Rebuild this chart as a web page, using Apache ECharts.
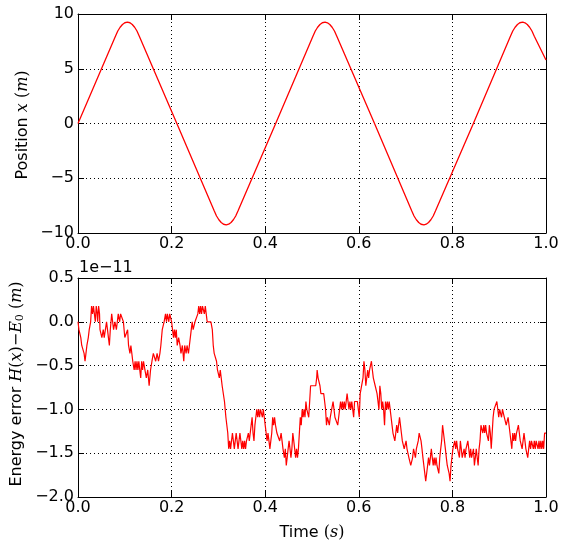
<!DOCTYPE html>
<html>
<head>
<meta charset="utf-8">
<script src="https://cdn.jsdelivr.net/npm/echarts@6/dist/echarts.min.js"></script>
<style>
html,body{margin:0;padding:0;background:#fff;}
#c{width:563px;height:545px;}
</style>
</head>
<body>
<div id="c"></div>
<script>
// ---- Data ----
const posTime = [0, 0.080, 0.085, 0.090, 0.095, 0.100, 0.1056, 0.111, 0.116, 0.121, 0.126, 0.131,
  0.2112, 0.291, 0.296, 0.301, 0.306, 0.311, 0.3168, 0.322, 0.327, 0.332, 0.337, 0.342,
  0.4224, 0.502, 0.507, 0.512, 0.517, 0.522, 0.528, 0.533, 0.538, 0.543, 0.548, 0.553,
  0.6336, 0.713, 0.718, 0.723, 0.728, 0.733, 0.7392, 0.744, 0.749, 0.754, 0.759, 0.764,
  0.8448, 0.924, 0.929, 0.934, 0.939, 0.944, 0.9504, 0.955, 0.960, 0.965, 0.970, 0.975, 1.0];
const posValue = [0, 7.97, 8.45, 8.79, 9.04, 9.2, 9.25, 9.2, 9.04, 8.79, 8.45, 7.97,
  0, -7.97, -8.45, -8.79, -9.04, -9.2, -9.25, -9.2, -9.04, -8.79, -8.45, -7.97,
  0, 7.97, 8.45, 8.79, 9.04, 9.2, 9.25, 9.2, 9.04, 8.79, 8.45, 7.97,
  0, -7.97, -8.45, -8.79, -9.04, -9.2, -9.25, -9.2, -9.04, -8.79, -8.45, -7.97,
  0, 7.97, 8.45, 8.79, 9.04, 9.2, 9.25, 9.2, 9.04, 8.79, 8.45, 7.97, 5.8];

// energy error, in units of 1e-11 : [time, value]
const errPoints = [
[0.000,0],[0.002,-0.09],[0.004,-0.09],[0.006,-0.18],[0.008,-0.27],[0.011,-0.27],[0.013,-0.36],[0.015,-0.45],
[0.017,-0.36],[0.019,-0.27],[0.022,-0.18],[0.024,-0.09],[0.027,0],[0.029,0.18],[0.031,0.09],[0.033,0.18],
[0.035,0.09],[0.037,0],[0.039,0.18],[0.041,0.09],[0.042,0],[0.044,0.18],[0.046,0.09],[0.047,-0.09],
[0.049,-0.09],[0.051,-0.18],[0.054,-0.09],[0.056,-0.18],[0.058,-0.18],[0.061,0],[0.063,-0.09],[0.065,-0.18],
[0.067,-0.27],[0.069,-0.09],[0.072,0.09],[0.074,0],[0.076,-0.09],[0.079,0],[0.082,-0.09],[0.084,0],
[0.086,0.09],[0.089,0],[0.091,0.09],[0.093,0.09],[0.095,0.09],[0.097,0],[0.100,-0.18],[0.103,-0.18],
[0.106,-0.09],[0.108,-0.27],[0.111,-0.36],[0.113,-0.27],[0.115,-0.36],[0.117,-0.45],[0.120,-0.55],[0.122,-0.45],
[0.124,-0.55],[0.126,-0.45],[0.128,-0.55],[0.130,-0.45],[0.132,-0.55],[0.134,-0.64],[0.136,-0.45],[0.138,-0.55],
[0.140,-0.45],[0.143,-0.55],[0.146,-0.64],[0.149,-0.55],[0.152,-0.73],[0.155,-0.55],[0.158,-0.45],[0.161,-0.36],
[0.164,-0.36],[0.166,-0.45],[0.169,-0.36],[0.172,-0.45],[0.175,-0.36],[0.177,-0.27],[0.180,-0.09],[0.182,-0.09],
[0.184,0],[0.187,0.09],[0.189,0],[0.191,0.09],[0.194,0],[0.196,0.09],[0.198,0.09],[0.200,0],
[0.202,-0.09],[0.204,-0.18],[0.206,-0.09],[0.208,-0.18],[0.210,-0.09],[0.212,-0.27],[0.215,-0.18],[0.218,-0.27],
[0.220,-0.36],[0.223,-0.27],[0.226,-0.45],[0.228,-0.27],[0.231,-0.36],[0.233,-0.27],[0.236,-0.36],[0.238,-0.27],
[0.240,-0.18],[0.242,-0.09],[0.244,0],[0.246,-0.09],[0.248,-0.09],[0.250,0],[0.253,0],[0.256,0.09],
[0.258,0.18],[0.260,0.09],[0.262,0.18],[0.264,0.09],[0.266,0.18],[0.268,0.18],[0.270,0.09],[0.272,0.18],
[0.274,0.09],[0.276,0],[0.280,0],[0.284,0],[0.287,-0.09],[0.289,-0.27],[0.291,-0.36],[0.293,-0.36],
[0.296,-0.45],[0.298,-0.55],[0.300,-0.55],[0.302,-0.64],[0.304,-0.55],[0.306,-0.64],[0.308,-0.73],[0.311,-0.73],
[0.313,-0.91],[0.316,-1.09],[0.318,-1.09],[0.320,-1.27],[0.322,-1.45],[0.324,-1.36],[0.326,-1.45],[0.328,-1.36],
[0.330,-1.27],[0.332,-1.36],[0.334,-1.45],[0.336,-1.36],[0.338,-1.27],[0.340,-1.36],[0.342,-1.45],[0.344,-1.36],
[0.346,-1.27],[0.348,-1.36],[0.350,-1.45],[0.352,-1.36],[0.354,-1.45],[0.356,-1.36],[0.358,-1.45],[0.360,-1.36],
[0.362,-1.36],[0.364,-1.27],[0.366,-1.36],[0.368,-1.27],[0.370,-1.18],[0.372,-1.09],[0.374,-1.27],[0.376,-1.36],
[0.378,-1.18],[0.380,-1.09],[0.382,-1.00],[0.384,-1.09],[0.386,-1.00],[0.388,-1.09],[0.390,-1.00],[0.392,-1.00],
[0.394,-1.09],[0.396,-1.00],[0.398,-1.09],[0.400,-1.18],[0.402,-1.27],[0.404,-1.36],[0.406,-1.27],[0.408,-1.36],
[0.410,-1.45],[0.412,-1.36],[0.414,-1.27],[0.416,-1.09],[0.418,-1.18],[0.420,-1.09],[0.422,-1.18],[0.425,-1.27],
[0.428,-1.27],[0.431,-1.36],[0.434,-1.27],[0.436,-1.36],[0.438,-1.45],[0.441,-1.55],[0.443,-1.45],[0.445,-1.64],
[0.447,-1.55],[0.449,-1.45],[0.451,-1.36],[0.453,-1.45],[0.455,-1.55],[0.457,-1.45],[0.459,-1.27],[0.461,-1.36],
[0.463,-1.45],[0.465,-1.55],[0.467,-1.45],[0.469,-1.55],[0.471,-1.45],[0.473,-1.27],[0.475,-1.09],[0.477,-1.18],
[0.479,-1.00],[0.481,-1.09],[0.483,-1.00],[0.485,-1.09],[0.487,-0.91],[0.489,-1.00],[0.491,-1.00],[0.493,-1.09],
[0.495,-0.91],[0.497,-0.73],[0.500,-0.73],[0.503,-0.73],[0.506,-0.73],[0.508,-0.73],[0.510,-0.64],[0.511,-0.55],
[0.513,-0.64],[0.515,-0.64],[0.517,-0.73],[0.519,-0.82],[0.522,-0.82],[0.525,-0.82],[0.527,-0.91],[0.529,-1.00],
[0.531,-1.18],[0.533,-1.09],[0.535,-1.09],[0.537,-1.18],[0.539,-1.09],[0.541,-1.09],[0.543,-1.09],[0.545,-0.91],
[0.547,-1.00],[0.549,-1.09],[0.551,-1.09],[0.553,-1.09],[0.555,-1.18],[0.557,-1.09],[0.559,-1.00],[0.561,-0.91],
[0.563,-1.00],[0.565,-0.91],[0.567,-1.00],[0.569,-0.91],[0.571,-1.00],[0.573,-0.91],[0.575,-0.82],[0.577,-0.91],
[0.579,-1.00],[0.581,-0.91],[0.583,-1.00],[0.585,-0.91],[0.587,-1.00],[0.589,-1.09],[0.591,-0.91],[0.593,-0.91],
[0.595,-0.91],[0.597,-0.91],[0.599,-1.00],[0.601,-1.09],[0.603,-0.82],[0.605,-0.82],[0.607,-0.82],[0.609,-0.64],
[0.611,-0.45],[0.613,-0.55],[0.615,-0.73],[0.617,-0.64],[0.619,-0.55],[0.621,-0.64],[0.623,-0.55],[0.625,-0.55],
[0.627,-0.45],[0.629,-0.55],[0.631,-0.64],[0.633,-0.64],[0.635,-0.73],[0.637,-0.73],[0.639,-0.82],[0.641,-0.91],
[0.643,-1.00],[0.645,-0.73],[0.647,-0.82],[0.649,-1.00],[0.651,-0.91],[0.653,-1.00],[0.655,-1.18],[0.657,-0.91],
[0.659,-1.00],[0.661,-0.91],[0.663,-1.00],[0.665,-0.91],[0.667,-1.00],[0.669,-1.09],[0.671,-1.18],[0.673,-1.27],
[0.675,-1.27],[0.677,-1.36],[0.679,-1.27],[0.681,-1.18],[0.683,-1.27],[0.685,-1.27],[0.687,-1.09],[0.689,-1.18],
[0.691,-1.27],[0.693,-1.36],[0.695,-1.36],[0.697,-1.45],[0.699,-1.45],[0.701,-1.36],[0.703,-1.45],[0.705,-1.45],
[0.707,-1.55],[0.709,-1.55],[0.711,-1.64],[0.713,-1.64],[0.715,-1.55],[0.717,-1.45],[0.719,-1.45],[0.721,-1.55],
[0.723,-1.45],[0.725,-1.45],[0.727,-1.36],[0.729,-1.27],[0.731,-1.27],[0.733,-1.36],[0.735,-1.45],[0.737,-1.55],
[0.739,-1.64],[0.741,-1.73],[0.743,-1.82],[0.745,-1.82],[0.747,-1.64],[0.749,-1.55],[0.751,-1.64],[0.753,-1.55],
[0.755,-1.45],[0.757,-1.55],[0.759,-1.64],[0.761,-1.55],[0.763,-1.64],[0.765,-1.55],[0.767,-1.64],[0.769,-1.64],
[0.771,-1.73],[0.773,-1.55],[0.775,-1.45],[0.777,-1.36],[0.779,-1.18],[0.781,-1.27],[0.783,-1.36],[0.785,-1.45],
[0.787,-1.55],[0.789,-1.64],[0.791,-1.64],[0.793,-1.73],[0.795,-1.82],[0.797,-1.64],[0.799,-1.55],[0.801,-1.45],
[0.803,-1.45],[0.805,-1.36],[0.807,-1.45],[0.809,-1.36],[0.811,-1.45],[0.813,-1.45],[0.815,-1.55],[0.817,-1.36],
[0.819,-1.45],[0.821,-1.55],[0.823,-1.55],[0.825,-1.45],[0.827,-1.55],[0.829,-1.45],[0.831,-1.45],[0.833,-1.36],
[0.835,-1.45],[0.837,-1.55],[0.839,-1.45],[0.841,-1.55],[0.843,-1.55],[0.845,-1.45],[0.847,-1.64],[0.849,-1.55],
[0.851,-1.45],[0.853,-1.55],[0.855,-1.64],[0.857,-1.45],[0.859,-1.36],[0.861,-1.18],[0.863,-1.18],[0.865,-1.27],
[0.867,-1.18],[0.869,-1.27],[0.871,-1.18],[0.873,-1.27],[0.875,-1.27],[0.877,-1.36],[0.879,-1.18],[0.881,-1.27],
[0.883,-1.45],[0.885,-1.27],[0.887,-1.09],[0.889,-1.00],[0.891,-1.00],[0.893,-1.00],[0.895,-0.91],[0.897,-0.91],
[0.899,-1.09],[0.901,-1.00],[0.903,-1.00],[0.905,-1.09],[0.907,-1.00],[0.909,-1.00],[0.911,-1.09],[0.913,-1.09],
[0.915,-1.18],[0.917,-1.18],[0.919,-1.09],[0.921,-1.18],[0.923,-1.27],[0.925,-1.27],[0.927,-1.45],[0.929,-1.27],
[0.931,-1.36],[0.933,-1.27],[0.935,-1.36],[0.937,-1.27],[0.939,-1.27],[0.941,-1.18],[0.943,-1.27],[0.945,-1.36],
[0.947,-1.36],[0.949,-1.45],[0.951,-1.36],[0.953,-1.27],[0.955,-1.36],[0.957,-1.45],[0.959,-1.45],[0.961,-1.55],
[0.963,-1.45],[0.965,-1.36],[0.967,-1.45],[0.969,-1.36],[0.971,-1.36],[0.973,-1.45],[0.975,-1.36],[0.977,-1.45],
[0.979,-1.36],[0.981,-1.36],[0.983,-1.45],[0.985,-1.36],[0.987,-1.45],[0.989,-1.36],[0.991,-1.45],[0.993,-1.36],
[0.995,-1.45],[0.997,-1.27],[1.000,-1.27]
];

const timeTicks = {min: 0, max: 1, step: 0.2};
const posTicks = {min: -10, max: 10, step: 5};
const errTicks = {min: -2.0, max: 0.5, step: 0.5};
const errExponentLabel = '1e\u221211';

// ---- Chart ----
const FONT = 'DejaVu Sans';
const FS = 16;
const minus = s => String(s).replace('-', '\u2212');
const chart = echarts.init(document.getElementById('c'), null, {renderer: 'canvas'});

function mainX(gi, ticks, show) {
  return {
    type: 'value', gridIndex: gi, min: ticks.min, max: ticks.max, interval: ticks.step,
    position: 'bottom',
    axisLine: {show: true, onZero: false, lineStyle: {color: '#000', width: 1}},
    axisTick: {show: true, inside: true, length: 6, lineStyle: {color: '#000'}},
    axisLabel: {show: show, color: '#000', fontFamily: FONT, fontSize: FS, margin: 3,
      formatter: v => minus(v.toFixed(1))},
    splitLine: {show: true, lineStyle: {color: '#000', type: [1, 3], width: 1}}
  };
}
function topX(gi, ticks) {
  return {
    type: 'value', gridIndex: gi, min: ticks.min, max: ticks.max, interval: ticks.step,
    position: 'top',
    axisLine: {show: true, onZero: false, lineStyle: {color: '#000', width: 1}},
    axisTick: {show: true, inside: true, length: 6, lineStyle: {color: '#000'}},
    axisLabel: {show: false}, splitLine: {show: false}
  };
}
function mainY(gi, ticks, fmt) {
  return {
    type: 'value', gridIndex: gi, min: ticks.min, max: ticks.max, interval: ticks.step,
    position: 'left',
    axisLine: {show: true, onZero: false, lineStyle: {color: '#000', width: 1}},
    axisTick: {show: true, inside: true, length: 6, lineStyle: {color: '#000'}},
    axisLabel: {color: '#000', fontFamily: FONT, fontSize: FS, margin: 4, formatter: fmt},
    splitLine: {show: true, lineStyle: {color: '#000', type: [1, 3], width: 1}}
  };
}
function rightY(gi, ticks) {
  return {
    type: 'value', gridIndex: gi, min: ticks.min, max: ticks.max, interval: ticks.step,
    position: 'right',
    axisLine: {show: true, onZero: false, lineStyle: {color: '#000', width: 1}},
    axisTick: {show: true, inside: true, length: 6, lineStyle: {color: '#000'}},
    axisLabel: {show: false}, splitLine: {show: false}
  };
}

const mathRich = {
  m: {fontFamily: 'DejaVu Serif', fontStyle: 'italic', fontSize: FS, fill: '#000'},
  r: {fontFamily: 'DejaVu Serif', fontSize: FS, fill: '#000'},
  s: {fontFamily: 'DejaVu Serif', fontSize: 11, fill: '#000', verticalAlign: 'bottom', padding: [7, 0, 0, 0]}
};

chart.setOption({
  animation: false,
  backgroundColor: '#fff',
  grid: [
    {left: 78, top: 14, width: 468, height: 219},
    {left: 78, top: 278, width: 468, height: 219}
  ],
  xAxis: [mainX(0, timeTicks, true), topX(0, timeTicks), mainX(1, timeTicks, true), topX(1, timeTicks)],
  yAxis: [
    mainY(0, posTicks, v => minus(v)), rightY(0, posTicks),
    mainY(1, errTicks, v => minus(v.toFixed(1))), rightY(1, errTicks)
  ],
  series: [
    {type: 'line', xAxisIndex: 0, yAxisIndex: 0, showSymbol: false, symbol: 'none',
     lineStyle: {color: '#ff0000', width: 1.3},
     data: posTime.map((t, i) => [t, posValue[i]])},
    {type: 'line', xAxisIndex: 2, yAxisIndex: 2, showSymbol: false, symbol: 'none',
     lineStyle: {color: '#ff0000', width: 1.2},
     data: errPoints}
  ],
  graphic: [
    {type: 'text', x: 23, y: 125, rotation: Math.PI / 2,
     style: {text: 'Position {m|x} {r|(}{m|m}{r|)}', font: FS + 'px "DejaVu Sans"', fill: '#000',
       align: 'center', verticalAlign: 'middle', rich: mathRich}},
    {type: 'text', x: 17, y: 384, rotation: Math.PI / 2,
     style: {text: 'Energy error {m|H}{r|(}{m|x}{r|)}{r|\u2212}{m|E}{s|0} {r|(}{m|m}{r|)}',
       font: FS + 'px "DejaVu Sans"', fill: '#000',
       align: 'center', verticalAlign: 'middle', rich: mathRich}},
    {type: 'text', x: 312, y: 533,
     style: {text: 'Time {r|(}{m|s}{r|)}', font: FS + 'px "DejaVu Sans"', fill: '#000',
       align: 'center', verticalAlign: 'middle', rich: mathRich}},
    {type: 'text', x: 79, y: 276,
     style: {text: errExponentLabel, font: FS + 'px "DejaVu Sans"', fill: '#000',
       align: 'left', verticalAlign: 'bottom'}}
  ]
});
</script>
</body>
</html>
